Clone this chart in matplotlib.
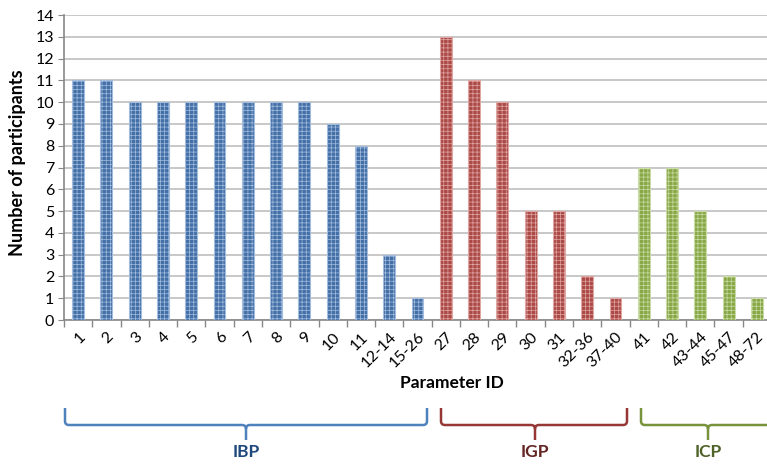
import numpy as np
import matplotlib
matplotlib.use("Agg")
import matplotlib.pyplot as plt
from matplotlib.path import Path
from matplotlib.patches import PathPatch

plt.rcParams['font.family'] = ['Lato', 'DejaVu Sans']
plt.rcParams['hatch.linewidth'] = 0.5

# data
ibp_ids = ['1', '2', '3', '4', '5', '6', '7', '8', '9', '10', '11', '12-14', '15-26']
ibp_vals = [11, 11, 10, 10, 10, 10, 10, 10, 10, 9, 8, 3, 1]
igp_ids = ['27', '28', '29', '30', '31', '32-36', '37-40']
igp_vals = [13, 11, 10, 5, 5, 2, 1]
icp_ids = ['41', '42', '43-44', '45-47', '48-72']
icp_vals = [7, 7, 5, 2, 1]

groups = [
    ('IBP', ibp_ids, ibp_vals, '#4470A8', '#A3BCDD', '#4F81BD', '#1F497D'),
    ('IGP', igp_ids, igp_vals, '#AC4A47', '#DFA6A4', '#953735', '#632523'),
    ('ICP', icp_ids, icp_vals, '#88A746', '#CADCA6', '#77933C', '#4F6228'),
]

W, H = 767, 469
fig = plt.figure(figsize=(W / 100, H / 100), dpi=100)
ax = fig.add_axes([64 / W, 1 - 320 / H, (771 - 64) / W, (320 - 15) / H])

labels = []
start = 0
for name, ids, vals, fc, hc, bc, tc in groups:
    x = np.arange(start, start + len(ids))
    ax.bar(x, vals, width=0.42, color=fc, edgecolor=hc, hatch='++++',
           linewidth=0.8, zorder=3)
    labels += ids
    start += len(ids)

n = len(labels)
ax.set_xlim(-0.5, n - 0.5)
ax.set_ylim(0, 14)
ax.set_yticks(range(0, 15))
ax.yaxis.grid(True, color='#BFBFBF', linewidth=1.2, zorder=0)
ax.set_axisbelow(True)
ax.set_xticks(np.arange(n))
ax.set_xticklabels(labels, rotation=45, ha='right', rotation_mode='anchor', fontsize=11.5)
ax.tick_params(axis='x', length=0, pad=7)
ax.set_xticks(np.arange(n + 1) - 0.5, minor=True)
ax.tick_params(axis='x', which='minor', length=5, color='#888888', width=1)
ax.tick_params(axis='y', length=4, color='#888888', labelsize=11.5, pad=3)
for s in ['top', 'right']:
    ax.spines[s].set_visible(False)
for s in ['left', 'bottom']:
    ax.spines[s].set_color('#888888')
    ax.spines[s].set_linewidth(1.2)

fig.text(18 / W, 1 - 163 / H, 'Number of participants', rotation=90,
         ha='center', va='center', fontsize=13, fontweight='bold')
fig.text(452 / W, 1 - 383 / H, 'Parameter ID', ha='center', va='center',
         fontsize=12.5, fontweight='bold')


def brace(x0, x1, xm, color):
    y_top, y_mid, y_tip, r = 408, 425, 440, 4
    verts = [(x0, y_top), (x0, y_mid - r), (x0, y_mid), (x0 + r, y_mid),
             (xm - r, y_mid), (xm, y_mid), (xm, y_mid + r), (xm, y_tip),
             (xm, y_mid + r), (xm, y_mid), (xm + r, y_mid),
             (x1 - r, y_mid), (x1, y_mid), (x1, y_mid - r), (x1, y_top)]
    codes = [Path.MOVETO, Path.LINETO, Path.CURVE3, Path.CURVE3,
             Path.LINETO, Path.CURVE3, Path.CURVE3, Path.LINETO,
             Path.MOVETO, Path.CURVE3, Path.CURVE3,
             Path.LINETO, Path.CURVE3, Path.CURVE3, Path.LINETO]
    verts = [(vx / W, 1 - vy / H) for vx, vy in verts]
    fig.add_artist(PathPatch(Path(verts, codes), transform=fig.transFigure,
                             facecolor='none', edgecolor=color, linewidth=1.8))


brace_px = [(65, 427, 246), (441, 627, 535), (641, 790, 708)]
for (name, ids, vals, fc, hc, bc, tc), (x0, x1, xm) in zip(groups, brace_px):
    brace(x0, x1, xm, bc)
    fig.text(xm / W, 1 - 452 / H, name, ha='center', va='center',
             fontsize=12.5, fontweight='bold', color=tc)

fig.savefig('out.png', dpi=100)
